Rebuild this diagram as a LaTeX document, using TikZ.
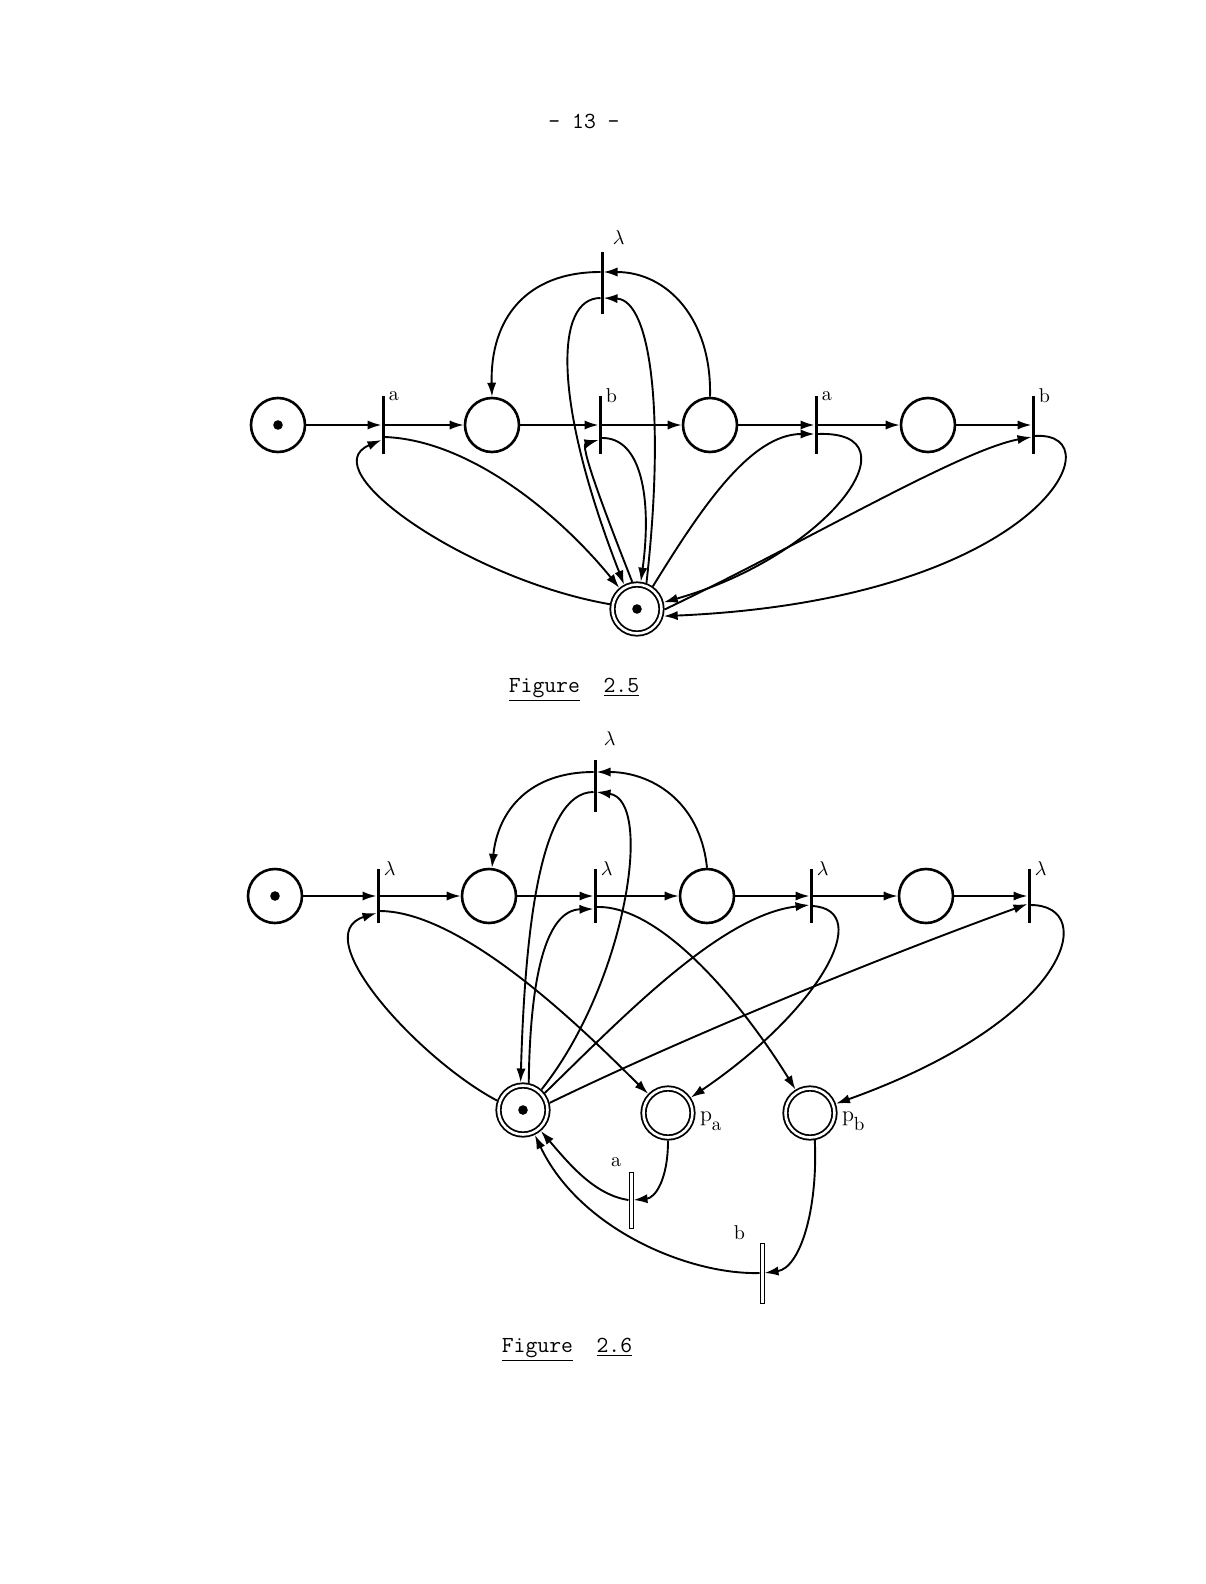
\documentclass[tikz,border=0pt]{standalone}
\usepackage{tikz}
\usetikzlibrary{arrows.meta,positioning}

\begin{document}
\begin{tikzpicture}[
    x=0.5pt, y=0.5pt,
    place/.style={draw, circle, line width=1.3pt, minimum size=27pt, inner sep=0pt},
    final/.style={draw, circle, double, double distance=1.3pt, line width=0.9pt,
                  minimum size=24.5pt, inner sep=0pt, outer sep=1.55pt},
    marked/.style={path picture={\fill (path picture bounding box.center) circle (2.4pt);}},
    trans/.style={fill, minimum width=1.5pt, minimum height=29pt, inner sep=0pt, outer sep=0pt},
    ttrans/.style={draw, line width=0.5pt, minimum width=2pt, minimum height=28pt,
                   inner sep=0pt},
    tlab/.style={font=\fontsize{10}{11}\selectfont, inner sep=2pt},
    plab/.style={font=\fontsize{11}{12}\selectfont, inner sep=0pt},
    figcap/.style={font=\fontsize{11.5}{13}\selectfont\ttfamily},
    line/.style={-{Latex[length=7pt,width=4.6pt]}, line width=0.95pt}
]
\useasboundingbox (0,0) rectangle (1205,-1584);

\node[figcap] (page) at (584,-121) {- 13 -};

% figure 2.5
\node[place, marked] (p0)  at (278,-425)  {};
\node[trans, label={[tlab,anchor=west]north east:a}] (ta1) at (383,-425) {};
\node[place]         (p1)  at (492,-425)  {};
\node[trans, label={[tlab,anchor=west]north east:b}] (tb1) at (600,-425) {};
\node[place]         (p2)  at (710,-425)  {};
\node[trans, label={[tlab,anchor=west]north east:a}] (ta2) at (816,-425) {};
\node[place]         (p3)  at (928,-425)  {};
\node[trans, label={[tlab,anchor=west]north east:b}] (tb2) at (1033,-425) {};
\node[trans, minimum height=31pt,
      label={[tlab,anchor=south west,xshift=2.5pt,yshift=1.5pt]north east:$\lambda$}]
      (tl) at (602,-283) {};
\node[final, marked] (fin) at (637,-609)  {};

\draw[line] (p0)  -- (ta1);
\draw[line] (ta1) -- (p1);
\draw[line] (p1)  -- (tb1);
\draw[line] (tb1) -- (p2);
\draw[line] (p2)  -- (ta2);
\draw[line] (ta2) -- (p3);
\draw[line] (p3)  -- (tb2);

\draw[line] (p2.north) .. controls (712,-320) and (668,-272) .. ([yshift=5.5pt]tl.east);
\draw[line] ([yshift=5.5pt]tl.west) .. controls (525,-272) and (490,-320) .. (p1.north);
\draw[line] ([yshift=-7.5pt]tl.west) .. controls (555,-298) and (552,-400) .. (fin.118);
\draw[line] (fin.70) .. controls (665,-420) and (652,-300) .. ([yshift=-7.5pt]tl.east);

\draw[line] (fin.170) .. controls (470,-580) and (310,-470) .. ([yshift=-7.5pt]ta1.west);
\draw[line] ([yshift=-6pt]ta1.east) .. controls (470,-440) and (560,-515) .. (fin.130);
\draw[line] (fin.100) .. controls (600,-500) and (580,-445) .. ([yshift=-7.5pt]tb1.west);
\draw[line] ([yshift=-6.5pt]tb1.east) .. controls (642,-437) and (652,-500) .. (fin.82);
\draw[line] (fin.55) .. controls (700,-510) and (750,-434) .. ([yshift=-4.5pt]ta2.west);
\draw[line] ([yshift=-4.5pt]ta2.east) .. controls (920,-430) and (830,-555) .. (fin.14);
\draw[line] (fin.-1) .. controls (800,-545) and (960,-450) .. ([yshift=-6pt]tb2.west);
\draw[line] ([yshift=-5.5pt]tb2.east) .. controls (1120,-430) and (1040,-600) .. (fin.-15);

\node[figcap] (cap5) at (574,-690) {\underline{Figure}\ \ \underline{2.5}};

% figure 2.6
\node[place, marked] (q0) at (275,-896)  {};
\node[trans, minimum height=27pt, label={[tlab,anchor=west]north east:$\lambda$}] (u1) at (378,-896) {};
\node[place]         (q1) at (489,-896)  {};
\node[trans, minimum height=27pt, label={[tlab,anchor=west]north east:$\lambda$}] (u2) at (595,-896) {};
\node[place]         (q2) at (707,-896)  {};
\node[trans, minimum height=27pt, label={[tlab,anchor=west]north east:$\lambda$}] (u3) at (811,-896) {};
\node[place]         (q3) at (926,-896)  {};
\node[trans, minimum height=27pt, label={[tlab,anchor=west]north east:$\lambda$}] (u4) at (1029,-896) {};
\node[trans, minimum height=26pt,
      label={[tlab,anchor=south west,xshift=1.5pt,yshift=5pt]north east:$\lambda$}]
      (ul) at (595,-786) {};
\node[final, marked] (gin) at (523,-1110) {};
\node[final, label={[plab,anchor=west,xshift=2pt,yshift=-4pt]east:p\raisebox{-0.9ex}{\fontsize{9.5}{10}\selectfont a}}] (pa) at (668,-1113) {};
\node[final, label={[plab,anchor=west,xshift=2pt,yshift=-4pt]east:p\raisebox{-0.9ex}{\fontsize{9.5}{10}\selectfont b}}] (pb) at (810,-1113) {};
\node[ttrans, label={[tlab,anchor=south east,xshift=-1.5pt]north west:a}] (ra) at (631,-1200) {};
\node[ttrans, minimum height=30pt,
      label={[tlab,anchor=south east,xshift=-5pt,yshift=-1pt]north west:b}] (rb) at (762,-1273) {};

\draw[line] (q0) -- (u1);
\draw[line] (u1) -- (q1);
\draw[line] (q1) -- (u2);
\draw[line] (u2) -- (q2);
\draw[line] (q2) -- (u3);
\draw[line] (u3) -- (q3);
\draw[line] (q3) -- (u4);

\draw[line] (q2.north) .. controls (700,-800) and (650,-772) .. ([yshift=7pt]ul.east);
\draw[line] ([yshift=7pt]ul.west) .. controls (530,-772) and (498,-810) .. (q1);
\draw[line] ([yshift=-3pt]ul.west) .. controls (540,-792) and (525,-930) .. (gin.95);
\draw[line] (gin.48) .. controls (625,-985) and (655,-800) .. ([yshift=-3pt]ul.east);

\draw[line] (gin.160) .. controls (420,-1060) and (305,-935) .. ([yshift=-8.5pt]u1.west);
\draw[line] ([yshift=-7.5pt]u1.east) .. controls (470,-911) and (605,-1052) .. (pa);
\draw[line] (gin.78) .. controls (530,-980) and (545,-910) .. ([yshift=-6.5pt]u2.west);
\draw[line] ([yshift=-5.5pt]u2.east) .. controls (660,-905) and (740,-1000) .. (pb);
\draw[line] (gin.38) .. controls (620,-1020) and (720,-915) .. ([yshift=-4.5pt]u3.west);
\draw[line] ([yshift=-5pt]u3.east) .. controls (875,-910) and (820,-1010) .. (pa);
\draw[line] (gin.15) .. controls (700,-1030) and (900,-950) .. ([yshift=-4pt]u4.west);
\draw[line] ([yshift=-4.5pt]u4.east) .. controls (1100,-905) and (1070,-1020) .. (pb);

\draw[line] (pa.south) .. controls (668,-1180) and (655,-1198) .. (ra.east);
\draw[line] (ra.west) .. controls (595,-1195) and (570,-1165) .. (gin);
\draw[line] (pb.-80) .. controls (818,-1210) and (800,-1268) .. (rb.east);
\draw[line] (rb.west) .. controls (690,-1275) and (580,-1230) .. (gin);

\node[figcap] (cap6) at (567,-1350) {\underline{Figure}\ \ \underline{2.6}};
\end{tikzpicture}
\end{document}
